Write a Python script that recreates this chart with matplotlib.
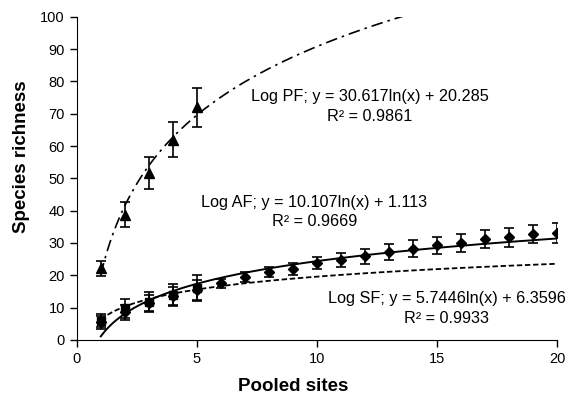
import numpy as np
import matplotlib
matplotlib.use("Agg")
import matplotlib.pyplot as plt

plt.rcParams['font.family'] = ['Liberation Sans', 'DejaVu Sans']

# observed species richness (mean +/- error) per number of pooled sites
pf_x = [1, 2, 3, 4, 5]
pf_y = [22.2, 38.7, 51.6, 62.0, 72.0]
pf_err = [2.3, 3.9, 5.0, 5.5, 6.0]

sf_x = [1, 2, 3, 4, 5]
sf_y = [6.0, 9.8, 11.7, 13.9, 16.0]
sf_err = [2.0, 3.0, 3.2, 3.5, 4.0]

af_x = list(range(1, 21))
af_y = [5.5, 8.5, 11.5, 13.5, 15.5, 17.5, 19.4, 21.0, 22.0, 23.8,
        24.8, 25.9, 27.3, 28.2, 29.3, 30.0, 31.1, 31.8, 32.8, 33.1]
af_err = [2.0, 2.2, 2.5, 2.8, 3.0, 1.5, 1.5, 1.5, 1.8, 2.0,
          2.2, 2.3, 2.5, 2.6, 2.7, 2.8, 2.8, 2.9, 2.9, 3.0]

# logarithmic trendline coefficients: y = a*ln(x) + b
pf_fit = (30.617, 20.285)
af_fit = (10.107, 1.113)
sf_fit = (5.7446, 6.3596)

fig = plt.figure(figsize=(5.73, 3.99), dpi=100)
ax = fig.add_axes([0.134, 0.148, 0.838, 0.810])

xx = np.linspace(1, 20, 300)
ax.plot(xx, pf_fit[0] * np.log(xx) + pf_fit[1], color='black', lw=1.2,
        linestyle=(0, (7, 3, 1.5, 3)))
ax.plot(xx, af_fit[0] * np.log(xx) + af_fit[1], color='black', lw=1.4)
ax.plot(xx, sf_fit[0] * np.log(xx) + sf_fit[1], color='black', lw=1.3,
        linestyle=(0, (3, 1.5)))

ax.errorbar(pf_x, pf_y, yerr=pf_err, fmt='^', color='black', ms=7,
            capsize=3.5, elinewidth=1.2, capthick=1.2)
ax.errorbar(sf_x, sf_y, yerr=sf_err, fmt='s', color='black', ms=6,
            capsize=3.5, elinewidth=1.2, capthick=1.2)
ax.errorbar(af_x, af_y, yerr=af_err, fmt='D', color='black', ms=5.5,
            capsize=3.5, elinewidth=1.2, capthick=1.2)

ax.set_xlim(0, 20)
ax.set_ylim(0, 100)
ax.set_xticks([0, 5, 10, 15, 20])
ax.set_yticks(range(0, 101, 10))
for s in ['top', 'right']:
    ax.spines[s].set_visible(False)
ax.tick_params(direction='out', length=5, labelsize=10.5, width=1)
ax.set_xlabel('Pooled sites', fontsize=13.5, fontweight='bold')
ax.set_ylabel('Species richness', fontsize=13.5, fontweight='bold')
ax.xaxis.set_label_coords(0.45, -0.118)
ax.yaxis.set_label_coords(-0.098, 0.567)

kw = dict(ha='center', va='center', fontsize=11.7, transform=ax.transData)
ax.text(12.2, 75.2, 'Log PF; y = 30.617ln(x) + 20.285', **kw)
ax.text(12.2, 69.2, 'R² = 0.9861', **kw)
ax.text(9.9, 42.5, 'Log AF; y = 10.107ln(x) + 1.113', **kw)
ax.text(9.9, 36.6, 'R² = 0.9669', **kw)
ax.text(15.4, 12.7, 'Log SF; y = 5.7446ln(x) + 6.3596', **kw)
ax.text(15.4, 6.7, 'R² = 0.9933', **kw)

fig.savefig('out.png', dpi=100)
